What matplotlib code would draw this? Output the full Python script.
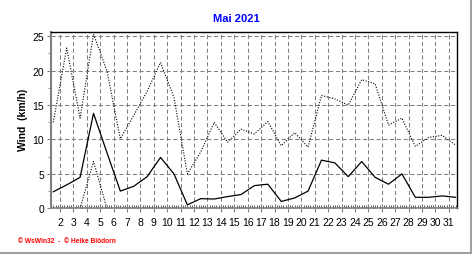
import matplotlib
matplotlib.use("Agg")
import matplotlib.pyplot as plt
from matplotlib.lines import Line2D
from matplotlib.ticker import MultipleLocator

plt.rcParams['font.family'] = ['Liberation Sans', 'DejaVu Sans']

# Tageswerte Mai 2021 (km/h)
days = list(range(1, 32))
wind_max = [12.5, 23.3, 13.1, 25.3, 20.0, 10.1, 13.5, 17.0, 21.2, 16.1,
            5.0, 8.2, 12.5, 9.6, 11.5, 10.8, 12.6, 9.1, 11.0, 8.9,
            16.4, 15.9, 15.0, 18.7, 18.1, 12.1, 13.1, 9.0, 10.3, 10.6, 9.2]
wind_avg = [2.4, 3.4, 4.5, 13.8, 8.1, 2.5, 3.2, 4.6, 7.4, 5.0,
            0.5, 1.4, 1.35, 1.7, 2.0, 3.3, 3.5, 1.0, 1.5, 2.5,
            7.0, 6.6, 4.6, 6.8, 4.5, 3.5, 5.0, 1.6, 1.6, 1.8, 1.6]
wind_min = [0, 0, 0, 6.8, 0, 0, 0, 0, 0, 0,
            0, 0, 0, 0, 0, 0, 0, 0, 0, 0,
            0, 0, 0, 0, 0, 0, 0, 0, 0, 0, 0]
day_labels = [str(d) for d in range(2, 32)]

title = "Mai 2021"
ylabel = "Wind  (km/h)"
footer = "\u00a9 WsWin32  -  \u00a9 Heike Bl\u00f6dorn"

fig = plt.figure(figsize=(4.72, 2.55), dpi=100, facecolor='white')
ax = fig.add_axes([51 / 472, 45.7 / 255, 406.3 / 472, 176.0 / 255])

dotted = (0, (1, 1.4))
ax.plot(days, wind_max, color='black', lw=0.8, linestyle=dotted)
ax.plot(days, wind_min, color='black', lw=0.8, linestyle=dotted)
ax.plot(days, wind_avg, color='black', lw=0.9)

ax.set_xlim(0.83, 31.13)
ax.set_ylim(0, 25.58)

# Tagesgrenzen als Gitter, Beschriftung mit dem Tagesbeginn
ax.set_xticks([d - 0.5 for d in range(2, 32)])
ax.set_xticklabels(day_labels)
ax.xaxis.set_minor_locator(MultipleLocator(1 / 6))
ax.set_yticks([0, 5, 10, 15, 20, 25])
ax.yaxis.set_minor_locator(MultipleLocator(2.5))

ax.grid(True, which='major', color='#808080', linestyle=(0, (4, 2.5)), linewidth=0.75)
ax.tick_params(axis='x', which='major', direction='out', length=3, width=0.8,
               color='#808080', labelsize=7.5, pad=3)
ax.tick_params(axis='x', which='minor', direction='in', length=2, width=0.6,
               color='#404040')
ax.tick_params(axis='y', which='major', direction='out', length=3, width=0.8,
               color='#808080', labelsize=7.5, pad=2)
ax.tick_params(axis='y', which='minor', direction='out', length=2, width=0.6,
               color='#808080')

ax.spines['left'].set_color('#808080')
ax.spines['left'].set_linewidth(1.5)
ax.spines['bottom'].set_color('#808080')
ax.spines['bottom'].set_linewidth(1.2)
for s in ['top', 'right']:
    ax.spines[s].set_color('black')
    ax.spines[s].set_linewidth(1.0)

fig.text(0.5, 1 - 19 / 255, title, color='#0000ff', fontsize=8, fontweight='bold',
         ha='center', va='center')
fig.text(22.5 / 472, 1 - 120 / 255, ylabel, rotation=90, fontsize=7.5,
         fontweight='bold', ha='center', va='center')
fig.text(18 / 472, 1 - 242 / 255, footer, color='#ff0000', fontsize=4.8,
         fontweight='bold', ha='left', va='center')

# grauer Fensterrand rechts und unten
fig.add_artist(Line2D([0, 1], [1 / 255, 1 / 255], transform=fig.transFigure,
                      color='#a0a0a0', lw=1.5))
fig.add_artist(Line2D([470.8 / 472, 470.8 / 472], [0, 1], transform=fig.transFigure,
                      color='#a0a0a0', lw=1.5))

fig.savefig("out.png", dpi=100, facecolor='white')
